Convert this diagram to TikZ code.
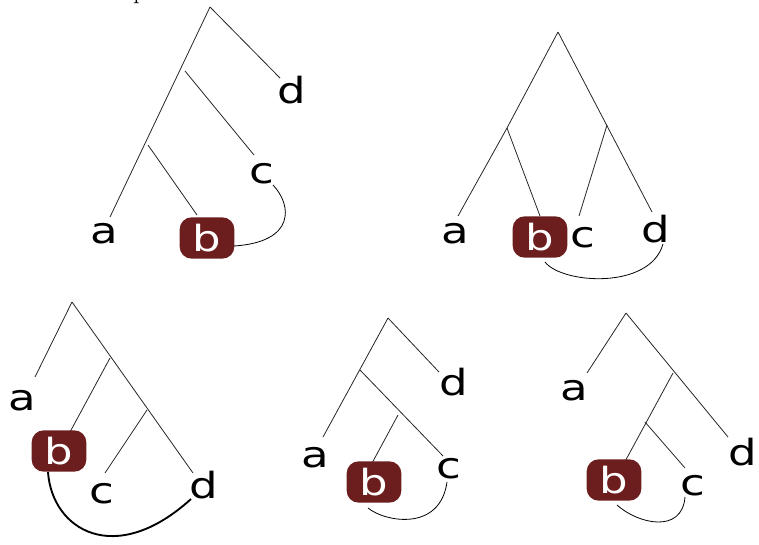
\documentclass[tikz,border=0pt]{standalone}
\usepackage{fontspec}
\usepackage{graphicx}
\newfontfamily\labelfont{DejaVu Sans}
\newcommand\widelbl[1]{\scalebox{1.25}[1]{#1}}
\definecolor{boxred}{RGB}{108,30,30}
\begin{document}
\begin{tikzpicture}[x=0.75pt,y=-0.75pt,
  edge/.style={draw=black!85,line width=0.6pt},
  link/.style={draw=black,line width=0.6pt},
  thicklink/.style={draw=black,line width=1.4pt},
  leaf/.style={anchor=base,inner sep=0pt,font=\labelfont\fontsize{27}{30}\selectfont},
  bbox/.style={fill=boxred,rounded corners=9pt,minimum width=41pt,minimum height=31pt,inner sep=0pt,text=white,font=\labelfont\fontsize{27}{30}\selectfont}]
\useasboundingbox (0,0) rectangle (759,544);
\node[anchor=base,inner sep=0pt,font=\rmfamily\fontsize{20}{24}\selectfont] (cap) at (140,-2) {p};
% ---------- tree 1 ----------
\coordinate (t1r) at (210,7);
\coordinate (t1d) at (280,78);
\coordinate (t1a) at (110,217);
\coordinate (t1i) at (185,71);
\coordinate (t1c) at (254,155);
\coordinate (t1j) at (148,145);
\coordinate (t1b) at (197,215);
\draw[edge] (t1r) -- (t1d);
\draw[edge] (t1r) -- (t1a);
\draw[edge] (t1i) -- (t1c);
\draw[edge] (t1j) -- (t1b);
\node[leaf] (L1a) at (104,243) {\widelbl{a}};
\node[leaf] (L1c) at (262,183) {\widelbl{c}};
\node[leaf] (L1d) at (292,103) {\widelbl{d}};
\node[bbox] (L1b) at (207,238) {\widelbl{b}};
\coordinate (t1cs) at (273,185);
\coordinate (t1be) at (234,246);
\draw[link] (t1cs) .. controls (292,205) and (296,242) .. (t1be);
% ---------- tree 2 ----------
\coordinate (t2r) at (558,32);
\coordinate (t2l) at (507,128);
\coordinate (t2a) at (458,216);
\coordinate (t2b) at (540,216);
\coordinate (t2m) at (607,125);
\coordinate (t2c) at (579,216);
\coordinate (t2d) at (652,212);
\draw[edge] (t2r) -- (t2l) -- (t2a);
\draw[edge] (t2l) -- (t2b);
\draw[edge] (t2r) -- (t2d);
\draw[edge] (t2m) -- (t2c);
\node[leaf] (L2a) at (455,243) {\widelbl{a}};
\node[bbox] (L2b) at (540,237) {\widelbl{b}};
\node[leaf] (L2c) at (583,247) {\widelbl{c}};
\node[leaf] (L2d) at (656,242) {\widelbl{d}};
\coordinate (t2bs) at (545,262);
\coordinate (t2de) at (663,244);
\draw[link] (t2bs) .. controls (562,284) and (650,290) .. (t2de);
% ---------- tree 3 ----------
\coordinate (t3r) at (72,302);
\coordinate (t3a) at (35,377);
\coordinate (t3d) at (193,473);
\coordinate (t3i) at (110,358);
\coordinate (t3b) at (70,432);
\coordinate (t3j) at (147,410);
\coordinate (t3c) at (105,473);
\draw[edge] (t3r) -- (t3a);
\draw[edge] (t3r) -- (t3d);
\draw[edge] (t3i) -- (t3b);
\draw[edge] (t3j) -- (t3c);
\node[leaf] (L3a) at (22,410) {\widelbl{a}};
\node[bbox] (L3b) at (59,451) {\widelbl{b}};
\node[leaf] (L3c) at (102,503) {\widelbl{c}};
\node[leaf] (L3d) at (204,498) {\widelbl{d}};
\coordinate (t3bs) at (48,472);
\coordinate (t3de) at (191,499);
\draw[thicklink] (t3bs) .. controls (52,530) and (115,568) .. (t3de);
% ---------- tree 4 ----------
\coordinate (t4r) at (388,318);
\coordinate (t4d) at (439,372);
\coordinate (t4a) at (323,437);
\coordinate (t4i) at (360,370);
\coordinate (t4c) at (443,456);
\coordinate (t4j) at (398,415);
\coordinate (t4b) at (371,465);
\draw[edge] (t4r) -- (t4d);
\draw[edge] (t4r) -- (t4a);
\draw[edge] (t4i) -- (t4c);
\draw[edge] (t4j) -- (t4b);
\node[leaf] (L4a) at (315,467) {\widelbl{a}};
\node[bbox] (L4b) at (374,482) {\widelbl{b}};
\node[leaf] (L4c) at (449,478) {\widelbl{c}};
\node[leaf] (L4d) at (454,395) {\widelbl{d}};
\coordinate (t4bs) at (368,508);
\coordinate (t4ce) at (447,482);
\draw[link] (t4bs) .. controls (385,522) and (440,532) .. (t4ce);
% ---------- tree 5 ----------
\coordinate (t5r) at (626,313);
\coordinate (t5a) at (587,373);
\coordinate (t5d) at (728,437);
\coordinate (t5i) at (673,373);
\coordinate (t5b) at (622,467);
\coordinate (t5j) at (645,422);
\coordinate (t5c) at (685,468);
\draw[edge] (t5r) -- (t5a);
\draw[edge] (t5r) -- (t5d);
\draw[edge] (t5i) -- (t5b);
\draw[edge] (t5j) -- (t5c);
\node[leaf] (L5a) at (574,400) {\widelbl{a}};
\node[bbox] (L5b) at (614,480) {\widelbl{b}};
\node[leaf] (L5c) at (693,495) {\widelbl{c}};
\node[leaf] (L5d) at (743,465) {\widelbl{d}};
\coordinate (t5bs) at (617,505);
\coordinate (t5ce) at (685,497);
\draw[link] (t5bs) .. controls (638,524) and (682,534) .. (t5ce);
\end{tikzpicture}
\end{document}
